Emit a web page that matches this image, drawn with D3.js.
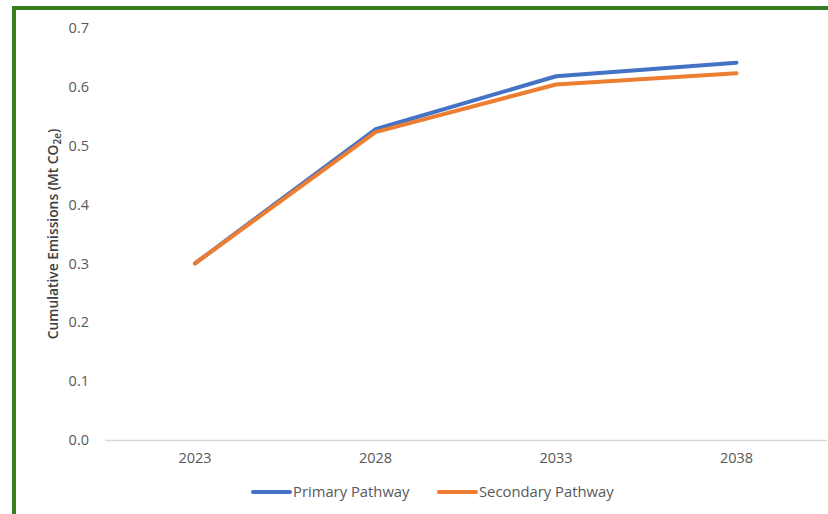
<!DOCTYPE html>
<html>
<head>
<meta charset="utf-8">
<script src="https://cdn.jsdelivr.net/npm/d3@7"></script>
<style>
  html, body { margin: 0; padding: 0; background: #fff; }
  svg { display: block; }
</style>
</head>
<body>
<svg id="chart" width="828" height="514"></svg>
<script>
// Cumulative emissions by pathway
const years = ["2023", "2028", "2033", "2038"];
const primaryPathway = [0.300, 0.528, 0.618, 0.641];
const secondaryPathway = [0.300, 0.523, 0.604, 0.623];
const yTicks = [0, 0.1, 0.2, 0.3, 0.4, 0.5, 0.6, 0.7];

const series = [
  { name: "Primary Pathway", values: primaryPathway, color: "#4472C4" },
  { name: "Secondary Pathway", values: secondaryPathway, color: "#ED7D31" }
];

const svg = d3.select("#chart");
const W = 828, H = 514;

// green frame on top and left
svg.append("line").attr("x1", 12).attr("x2", W).attr("y1", 8).attr("y2", 8)
  .attr("stroke", "#3B7D23").attr("stroke-width", 4);
svg.append("line").attr("x1", 14).attr("x2", 14).attr("y1", 6).attr("y2", H)
  .attr("stroke", "#3B7D23").attr("stroke-width", 4);

const x = d3.scaleBand().domain(years).range([104.75, 826.75]);
const y = d3.scaleLinear().domain([0, 0.7]).range([440, 28]);

// y tick labels
svg.append("g").selectAll("text").data(yTicks).join("text")
  .attr("x", 89).attr("y", d => y(d)).attr("dy", "0.35em")
  .attr("text-anchor", "end")
  .attr("font-family", "Open Sans, sans-serif").attr("font-size", 14.5)
  .attr("fill", "#595959")
  .text(d => d3.format(".1f")(d));

// category axis
const xAxis = d3.axisBottom(x).tickSize(0).tickPadding(13);
const gx = svg.append("g").attr("transform", "translate(0,440)").call(xAxis);
gx.select(".domain").attr("stroke", "#D9D9D9").attr("stroke-width", 1.3);
gx.selectAll("text")
  .attr("font-family", "Open Sans, sans-serif").attr("font-size", 14.5)
  .attr("fill", "#595959");

// y axis title
const title = svg.append("text")
  .attr("transform", "translate(58,234) rotate(-90)")
  .attr("text-anchor", "middle")
  .attr("font-family", "Open Sans, sans-serif").attr("font-size", 13.8)
  .attr("font-weight", 600)
  .attr("fill", "#404040");
title.append("tspan").text("Cumulative Emissions (Mt CO");
title.append("tspan").attr("font-size", 10).attr("dy", 3).text("2e");
title.append("tspan").attr("dy", -3).text(")");

// lines
const line = d3.line()
  .x((d, i) => x(years[i]) + x.bandwidth() / 2)
  .y(d => y(d));

svg.append("g").selectAll("path").data(series).join("path")
  .attr("d", d => line(d.values))
  .attr("fill", "none")
  .attr("stroke", d => d.color)
  .attr("stroke-width", 4)
  .attr("stroke-linejoin", "round")
  .attr("stroke-linecap", "round");

// legend
const legendItems = [
  { s: series[0], x: 253 },
  { s: series[1], x: 439 }
];
const lg = svg.append("g");
legendItems.forEach(it => {
  lg.append("line")
    .attr("x1", it.x).attr("x2", it.x + 37).attr("y1", 492).attr("y2", 492)
    .attr("stroke", it.s.color).attr("stroke-width", 4).attr("stroke-linecap", "round");
  lg.append("text")
    .attr("x", it.x + 40).attr("y", 492).attr("dy", "0.35em")
    .attr("font-family", "Open Sans, sans-serif").attr("font-size", 14.8)
    .attr("fill", "#595959")
    .text(it.s.name);
});
</script>
</body>
</html>
